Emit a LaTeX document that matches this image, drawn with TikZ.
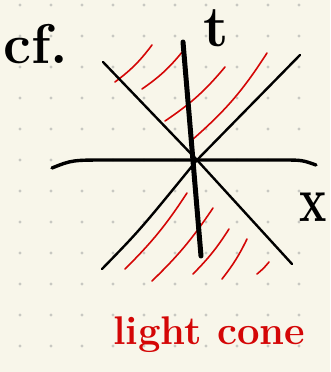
\documentclass[tikz,border=0pt]{standalone}
\definecolor{PaperCream}{RGB}{248,246,234}
\definecolor{GridDot}{RGB}{200,200,194}
\definecolor{InkRed}{RGB}{212,6,6}
\usepackage{tikz}
\usetikzlibrary{positioning}
\tikzset{>=latex}
\tikzset{
  ink/.style={black, line cap=round, line join=round},
  hatch/.style={InkRed, line width=1.6pt, line cap=round},
  handtext/.style={inner sep=0pt, font=\fontsize{#1}{#1}\selectfont\bfseries}
}

\begin{document}
\begin{tikzpicture}[x=1pt, y=-1pt]
  \fill[PaperCream] (0,0) rectangle (330,372);
  \useasboundingbox (0,0) rectangle (330,372);
  % dot grid of the paper
  \foreach \i in {0,...,9}{
    \foreach \j in {0,...,11}{
      \fill[GridDot] (20+31*\i, 5+31*\j) circle (1.6pt);
    }
  }
  % light cone hatching
  \foreach \ax/\ay/\bx/\by in {115/82/152/45, 142/89/183/51, 165/121/225/67, 192/140/267/53}{
    \draw[hatch] (\ax,\ay) to[bend right=8] (\bx,\by);
  }
  \foreach \ax/\ay/\bx/\by in {125/269/187/193, 152/281/213/208, 193/274/229/229, 222/279/247/239, 257/274/269/262}{
    \draw[hatch] (\ax,\ay) to[bend right=6] (\bx,\by);
  }
  % axes and light rays
  \coordinate (O) at (197,160);
  \coordinate (ul) at (103,62);
  \coordinate (lr) at (292,264);
  \coordinate (ll) at (102,269);
  \coordinate (ur) at (300,55);
  \draw[ink, line width=2.4pt] (ul) -- (O) -- (lr);
  \draw[ink, line width=2.4pt] (ll) .. controls (140,230) .. (O) -- (ur);
  \draw[ink, line width=3.4pt] (52,168) .. controls (72,160) .. (110,160) -- (280,160) .. controls (302,160) .. (316,165);
  \draw[ink, line width=5pt] (183,42) -- (201,256);
  % labels
  \node[handtext=56] (cf) at (36,44) {cf.};
  \node[handtext=58] (tlabel) at (216,28) {t};
  \node[handtext=46, yscale=1.4] (xlabel) at (313,207) {x};
  \node[handtext=40, anchor=base west, text=InkRed] (lightcone) at (113,344) {light cone};
\end{tikzpicture}
\end{document}
